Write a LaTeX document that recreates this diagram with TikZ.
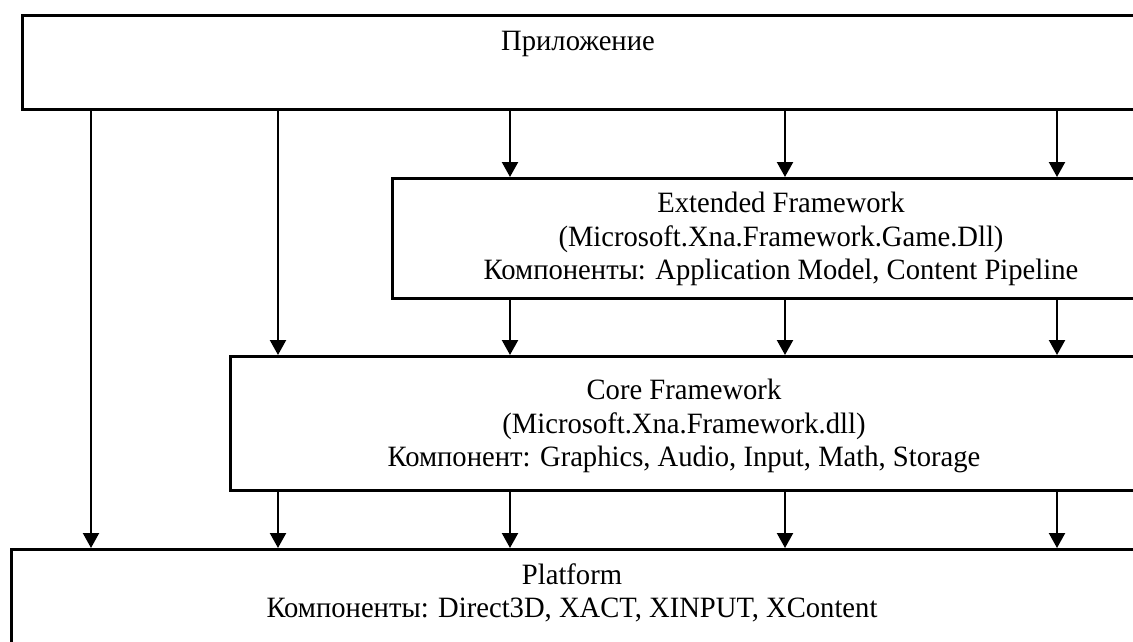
\documentclass[tikz,border=0pt]{standalone}
\usepackage{fontspec}
\setmainfont{Liberation Serif}[FakeStretch=0.97]
\usetikzlibrary{arrows.meta}
\begin{document}
\begin{tikzpicture}[x=1pt,y=-1pt,
  box/.style={draw=black,line width=2.8pt,rectangle,inner sep=0pt,anchor=north west},
  lbl/.style={align=center,font=\fontsize{29.5}{33.5}\selectfont,inner sep=0pt},
  arr/.style={line width=2.2pt,-{Triangle[width=16pt,length=15pt]}}]
\useasboundingbox (0,0) rectangle (1133,641);
\clip (0,0) rectangle (1133,641);
\node[box,minimum width=1130pt,minimum height=94pt] (app) at (21,14) {};
\node[box,minimum width=800pt,minimum height=120pt] (ext) at (391,177) {};
\node[box,minimum width=920pt,minimum height=134pt] (core) at (229,355) {};
\node[box,minimum width=1140pt,minimum height=120pt] (plat) at (10,548) {};
\node[lbl] (tapp) at (578,44) {Приложение};
\node[lbl] (text) at (781,239) {Extended Framework\\(Microsoft.Xna.Framework.Game.Dll)\\Компоненты: Application Model, Content Pipeline};
\node[lbl] (tcore) at (684,426) {Core Framework\\(Microsoft.Xna.Framework.dll)\\Компонент: Graphics, Audio, Input, Math, Storage};
\node[lbl] (tplat) at (572,593) {Platform\\Компоненты: Direct3D, XACT, XINPUT, XContent};
\coordinate (c1) at (91,0);
\coordinate (c2) at (278,0);
\coordinate (c3) at (510,0);
\coordinate (c4) at (785,0);
\coordinate (c5) at (1057,0);
\draw[arr] (app.south -| c1) -- (plat.north -| c1);
\draw[arr] (app.south -| c2) -- (core.north -| c2);
\draw[arr] (core.south -| c2) -- (plat.north -| c2);
\foreach \c in {c3,c4,c5}{
  \draw[arr] (app.south -| \c) -- (ext.north -| \c);
  \draw[arr] (ext.south -| \c) -- (core.north -| \c);
  \draw[arr] (core.south -| \c) -- (plat.north -| \c);
}
\end{tikzpicture}
\end{document}
